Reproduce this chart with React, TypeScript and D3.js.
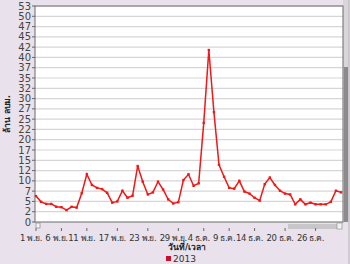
import React from "react";
import * as d3 from "d3";

const days: string[] = d3.range(61).map((i) => {
  const d = new Date(2013, 10, 1 + i);
  return d3.timeFormat("%Y-%m-%d")(d);
});

const values2013: number[] = [
  6.3, 4.9, 4.4, 4.4, 3.7, 3.6, 2.9, 3.7, 3.5, 7.0,
  11.6, 9.0, 8.3, 8.0, 7.1, 4.7, 5.0, 7.6, 5.9, 6.4,
  13.6, 9.8, 6.7, 7.2, 9.8, 7.9, 5.5, 4.5, 4.8, 10.2,
  11.6, 8.8, 9.4, 24.1, 41.8, 26.7, 13.9, 11.0, 8.3, 8.1,
  10.0, 7.4, 6.9, 5.9, 5.2, 9.2, 10.8, 9.0, 7.6, 6.9,
  6.7, 4.3, 5.5, 4.3, 4.7, 4.3, 4.3, 4.3, 4.9, 7.6, 7.2,
];

const yTickValues: number[] = d3.range(0, 53, 2.5);
const yTickLabels: string[] = [
  "0", "2", "5", "7", "10", "12", "15", "17", "20", "22", "25",
  "27", "30", "32", "35", "37", "40", "42", "45", "47", "50", "53",
];

const xTickIndex: number[] = [0, 5, 10, 16, 22, 28, 33, 38, 43, 49, 55];
const xTickLabels: string[] = [
  "1 พ.ย.", "6 พ.ย.", "11 พ.ย.", "17 พ.ย.", "23 พ.ย.", "29 พ.ย.",
  "4 ธ.ค.", "9 ธ.ค.", "14 ธ.ค.", "20 ธ.ค.", "26 ธ.ค.",
];

const yTitle = "ล้าน ลบม.";
const xTitle = "วันที่/เวลา";
const seriesName = "2013";

export default function App() {
  const W = 350;
  const H = 264;
  const left = 35;
  const right = 343;
  const top = 6;
  const bottom = 222;
  const font = "Tahoma, 'DejaVu Sans', 'Noto Sans', sans-serif";

  const x = d3.scaleLinear().domain([0, days.length - 1]).range([36, 341]);
  const y = d3.scaleLinear().domain([0, 52.5]).range([bottom, top]);

  const line = d3
    .line<number>()
    .x((_, i) => x(i))
    .y((d) => y(d));

  const red = "#f01818";

  return (
    <svg
      width={W}
      height={H}
      style={{ position: "absolute", left: 0, top: 0, display: "block" }}
      fontFamily={font}
    >
      <rect x={0} y={0} width={W} height={H} fill="#e9e2ec" />
      {/* right scrollbar */}
      <rect x={343} y={0} width={6} height={bottom} fill="#d9d6da" />
      <rect x={344} y={67} width={4} height={bottom - 67} fill="#8d8a8e" />
      <line x1={349} x2={349} y1={0} y2={H} stroke="#b8b4ba" />
      {/* plot area */}
      <rect x={left} y={top} width={right - left} height={bottom - top} fill="#ffffff" />
      {yTickValues.map((v, i) =>
        i === 0 ? null : (
          <line
            key={"g" + i}
            x1={left}
            x2={right}
            y1={y(v)}
            y2={y(v)}
            stroke="#d6d6d6"
            strokeWidth={1.2}
          />
        )
      )}
      <rect
        x={left}
        y={top}
        width={right - left}
        height={bottom - top}
        fill="none"
        stroke="#6a6a6a"
        strokeWidth={1}
      />
      {/* y axis */}
      {yTickValues.map((v, i) => (
        <g key={"y" + i}>
          <line x1={left - 3} x2={left} y1={y(v)} y2={y(v)} stroke="#666" />
          <text
            x={left - 4}
            y={y(v)}
            dy="0.35em"
            textAnchor="end"
            fontSize={10}
            fill="#444"
          >
            {yTickLabels[i]}
          </text>
        </g>
      ))}
      <text
        transform={`translate(10,${(top + bottom) / 2}) rotate(-90)`}
        textAnchor="middle"
        fontSize={8.5}
        fontWeight="bold"
        fill="#222"
      >
        {yTitle}
      </text>
      {/* bottom scrollbar */}
      <rect x={288} y={224} width={54} height={5} fill="#c8c6c9" />
      <rect x={337} y={223} width={5} height={6} fill="#f2f2f2" stroke="#888" strokeWidth={0.6} />
      <rect x={36} y={223} width={4} height={5} fill="#f4f4f4" stroke="#777" strokeWidth={0.6} />
      {/* x axis ticks */}
      {xTickIndex.map((d, i) => (
        <g key={"x" + i}>
          <line x1={x(d)} x2={x(d)} y1={228} y2={231} stroke="#666" />
          <text
            x={x(d) - 5}
            y={241}
            textAnchor="middle"
            fontSize={8.5}
            letterSpacing={-0.4}
            fill="#333"
          >
            {xTickLabels[i]}
          </text>
        </g>
      ))}
      <text x={187} y={250} textAnchor="middle" fontSize={8.5} fontWeight="bold" fill="#222">
        {xTitle}
      </text>
      {/* series */}
      <path d={line(values2013) ?? ""} fill="none" stroke={red} strokeWidth={1.5} />
      {values2013.map((v, i) => (
        <rect
          key={"p" + i}
          x={x(i) - 1.2}
          y={y(v) - 1.2}
          width={2.4}
          height={2.4}
          fill={red}
        />
      ))}
      {/* legend */}
      <rect x={166} y={256} width={5} height={5} fill="#c8102e" />
      <text x={173} y={262} fontSize={9} fill="#333">
        {seriesName}
      </text>
    </svg>
  );
}
